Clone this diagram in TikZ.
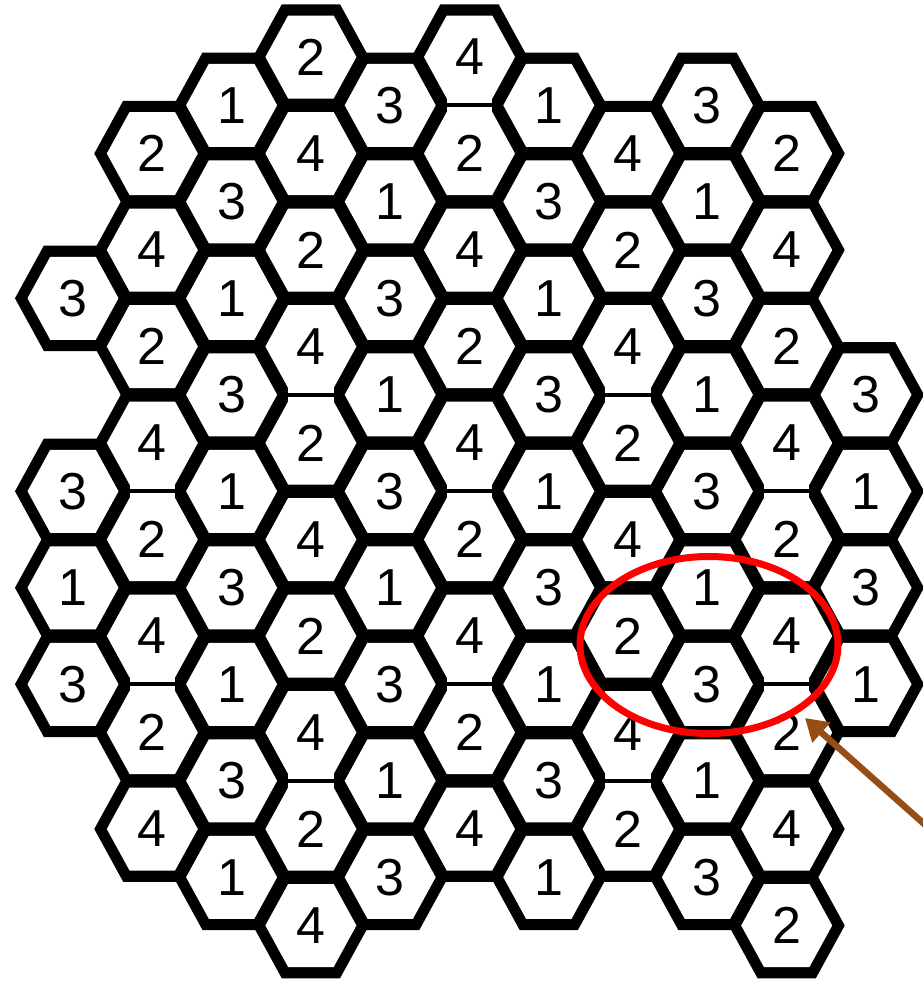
\documentclass[tikz,border=0pt]{standalone}
\usepackage{fontspec}
\setmainfont{Liberation Sans}
\usetikzlibrary{arrows.meta,shapes.geometric}
\definecolor{ringred}{RGB}{255,0,0}
\definecolor{arrowbrown}{RGB}{150,78,22}
\tikzset{
  tile/.style={fill=black, draw=black, line width=9pt, line join=miter},
  cellwhite/.style={fill=white},
  digit/.style={font=\fontsize{52}{52}\selectfont, inner sep=0pt},
  thinedge/.style={draw=black, line width=4pt},
  ring/.style={draw=ringred, line width=7pt, ellipse, minimum width=258pt, minimum height=177pt, inner sep=0pt},
  pointer/.style={draw=arrowbrown, line width=6.5pt, -{Triangle[length=22pt,width=26pt]}}
}
\def\celllist{0/5/3,0/9/3,0/11/1,0/13/3,
1/2/2,1/4/4,1/6/2,1/8/4,1/10/2,1/12/4,1/14/2,1/16/4,
2/1/1,2/3/3,2/5/1,2/7/3,2/9/1,2/11/3,2/13/1,2/15/3,2/17/1,
3/0/2,3/2/4,3/4/2,3/6/4,3/8/2,3/10/4,3/12/2,3/14/4,3/16/2,3/18/4,
4/1/3,4/3/1,4/5/3,4/7/1,4/9/3,4/11/1,4/13/3,4/15/1,4/17/3,
5/0/4,5/2/2,5/4/4,5/6/2,5/8/4,5/10/2,5/12/4,5/14/2,5/16/4,
6/1/1,6/3/3,6/5/1,6/7/3,6/9/1,6/11/3,6/13/1,6/15/3,6/17/1,
7/2/4,7/4/2,7/6/4,7/8/2,7/10/4,7/12/2,7/14/4,7/16/2,
8/1/3,8/3/1,8/5/3,8/7/1,8/9/3,8/11/1,8/13/3,8/15/1,8/17/3,
9/2/2,9/4/4,9/6/2,9/8/4,9/10/2,9/12/4,9/14/2,9/16/4,9/18/2,
10/7/3,10/9/1,10/11/3,10/13/1}
\def\ta{52.9}
\def\th{48.25}
\def\wa{45.5}
\def\wh{41.5}
\begin{document}
\begin{tikzpicture}[x=1pt,y=-1pt]
\useasboundingbox (0,0) rectangle (923,986);
% black tiles
\foreach \c/\k/\d in \celllist {
  \pgfmathsetmacro\cx{73+79.3*\c}
  \pgfmathsetmacro\cy{57+48.25*\k}
  \path[tile] (\cx-\ta,\cy) -- (\cx-\ta/2,\cy-\th) -- (\cx+\ta/2,\cy-\th)
     -- (\cx+\ta,\cy) -- (\cx+\ta/2,\cy+\th) -- (\cx-\ta/2,\cy+\th) -- cycle;
}
% white cells
\foreach \c/\k/\d in \celllist {
  \pgfmathsetmacro\cx{73+79.3*\c}
  \pgfmathsetmacro\cy{57+48.25*\k}
  \path[cellwhite] (\cx-\wa,\cy) -- (\cx-\wa/2,\cy-\wh) -- (\cx+\wa/2,\cy-\wh)
     -- (\cx+\wa,\cy) -- (\cx+\wa/2,\cy+\wh) -- (\cx-\wa/2,\cy+\wh) -- cycle;
}
% thin borders between some vertical neighbours
\foreach \c/\k in {1/8,1/12,3/6,3/14,5/0,5/8,5/12,7/6,7/14,9/8,9/12} {
  \pgfmathsetmacro\cx{73+79.3*\c}
  \pgfmathsetmacro\ye{57+48.25*(\k+1)}
  \fill[white] (\cx-\wa/2,\ye-7.5) rectangle (\cx+\wa/2,\ye+7.5);
  \draw[thinedge] (\cx-\wa/2-1,\ye) -- (\cx+\wa/2+1,\ye);
}
% labels
\foreach \c/\k/\d in \celllist {
  \pgfmathsetmacro\cx{73+79.3*\c}
  \pgfmathsetmacro\cy{57+48.25*\k}
  \node[digit] (n\c-\k) at (\cx,\cy) {\d};
}
% highlight
\node[ring] (ring) at (709,645) {};
\coordinate (tail) at (940,838);
\coordinate (tip) at (805,718);
\draw[pointer] (tail) -- (tip);
\end{tikzpicture}
\end{document}
